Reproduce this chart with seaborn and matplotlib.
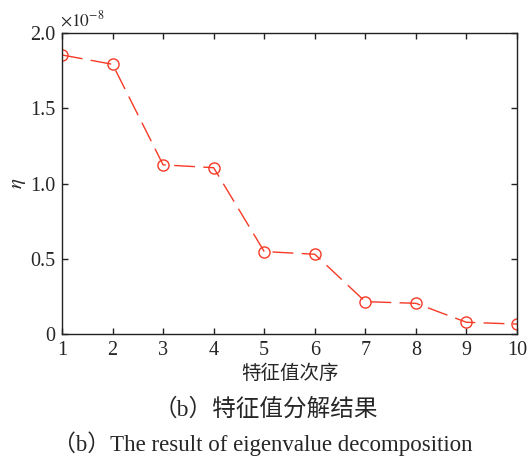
import matplotlib
matplotlib.use("Agg")
import matplotlib.pyplot as plt
import seaborn as sns
import pandas as pd

# Eigenvalue order and normalized eigenvalue magnitude (units of 1e-8)
order = [1, 2, 3, 4, 5, 6, 7, 8, 9, 10]
eta = [1.854, 1.792, 1.124, 1.105, 0.548, 0.530, 0.215, 0.204, 0.078, 0.066]
y_ticks = [0, 0.5, 1.0, 1.5, 2.0]
y_tick_labels = ["0", "0.5", "1.0", "1.5", "2.0"]

sns.set_style("ticks")
plt.rcParams["font.family"] = ["Liberation Serif", "Noto Sans CJK SC"]
plt.rcParams["mathtext.fontset"] = "stix"

df = pd.DataFrame({"order": order, "eta": eta})

fig = plt.figure(figsize=(5.29, 4.57), dpi=100)
ax = fig.add_axes([0.1172, 0.2691, 0.8601, 0.6587])

red = "#f53a26"
sns.lineplot(data=df, x="order", y="eta", ax=ax, color=red, linewidth=1.0,
             marker="o", markersize=8, markerfacecolor="none",
             markeredgecolor=red, markeredgewidth=1.0)
for line in ax.get_lines():
    line.set_dashes((15, 6))

ax.set_xlim(1, 10)
ax.set_ylim(0, 2.0)
ax.set_xticks(order)
ax.set_xticklabels([str(v) for v in order], fontsize=14.5)
ax.set_yticks(y_ticks)
ax.set_yticklabels(y_tick_labels, fontsize=14.5)
ax.tick_params(direction="in", length=4, width=1, top=True, right=True,
               labeltop=False, labelright=False, color="#222222")
ax.tick_params(axis="x", pad=5)
ax.tick_params(axis="y", pad=5)
for sp in ax.spines.values():
    sp.set_visible(True)
    sp.set_linewidth(1.0)
    sp.set_color("#222222")

ax.set_xlabel("特征值次序", family=["Noto Sans CJK SC"], fontsize=14, labelpad=2)
ax.set_ylabel(r"$\eta$", fontsize=15, labelpad=1)
ax.text(-0.004, 1.01, r"$\times10^{-8}$", transform=ax.transAxes,
        ha="left", va="bottom", fontsize=12.5)

fig.text(0.503, 0.103, "（b）特征值分解结果", ha="center", va="center",
         family=["Liberation Serif", "Noto Sans CJK SC"], fontsize=17)
fig.text(0.4965, 0.013, "（b）The result of eigenvalue decomposition",
         ha="center", va="baseline",
         family=["Liberation Serif", "Noto Sans CJK SC"], fontsize=16.5)

fig.savefig("out.png", dpi=100)
